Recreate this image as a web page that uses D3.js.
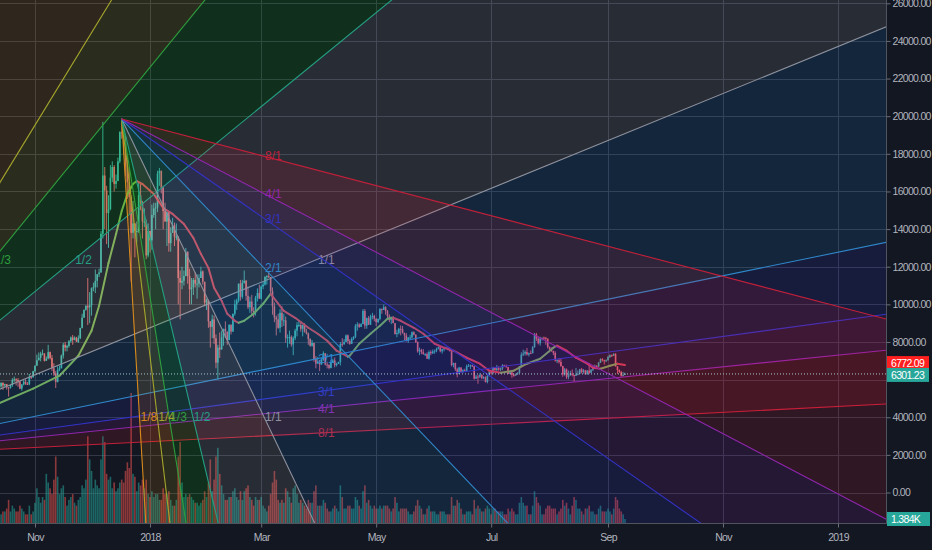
<!DOCTYPE html>
<html><head><meta charset="utf-8">
<script src="https://cdn.jsdelivr.net/npm/d3@7"></script>
<style>
html,body{margin:0;padding:0;background:#131722;}
svg{display:block;}
text{font-family:"Liberation Sans",Arial,sans-serif;}
</style></head><body>
<svg id="c" width="932" height="550"></svg>
<script>
// ---------------- DATA ----------------
const startDay = "2017-10-12"; // one candle per day from here
const opens = [4830,5430,5640,5830,5690,5760,5590,5570,5710,5990,6020,5980,5900,5520,5740,5890,5770,5750,6150,6130,
6450,6740,7030,7160,7380,7390,7000,7120,7460,7150,6600,6330,5880,6520,6600,7280,7850,7700,7790,8040,8240,8100,8230,8010,8200,8750,9290,9710,9920,9840,
9950,10860,10910,11250,11600,11690,13750,16850,16050,14850,15060,16730,17300,16400,16550,17600,19150,19100,18900,17400,16480,15700,13800,14300,13900,13900,15800,15400,14400,14400,12600,
13900,13400,14750,15100,15150,16950,17100,16200,14950,14400,14900,13250,13800,14200,13600,13600,11400,11150,11250,11500,12800,11500,10800,10900,11300,11100,11100,11400,11750,11200,10100,
10200,9100,8800,9200,8200,6900,7700,7600,8250,8700,8550,8100,8900,8550,9500,10000,10200,11100,10400,11150,11250,10450,9850,10150,9650,9600,10350,10600,
10300,10950,11050,11450,11500,11450,10700,9900,9300,9200,8750,9550,9150,9150,8200,8250,8270,7870,8200,8600,8900,8900,8700,8900,8550,8450,8150,7800,7950,7100,6850,
6950,6800,7050,7400,6800,6780,6620,6900,7020,6770,6830,6940,7900,7880,8000,8350,8050,7900,8170,8280,8860,8930,8800,8950,9650,8870,9270,8920,9350,9390,
9240,9060,9220,9750,9700,9850,9650,9370,9180,9310,9000,8420,8480,8700,8680,8480,8350,8060,8240,8240,8520,8390,7990,7500,7580,7460,7350,7360,7110,7470,7400,
7500,7530,7640,7720,7500,7620,7660,7690,7620,7510,6770,6880,6550,6300,6640,6400,6500,6460,6720,6750,6760,6720,6050,6160,6150,6250,6080,6130,5870,6200,
6390,6350,6620,6510,6600,6530,6600,6760,6710,6660,6300,6390,6250,6230,6270,6350,6720,7320,7380,7470,7330,7410,7400,7720,8400,8170,7930,8190,8230,8220,8180,
7730,7600,7530,7420,7010,7030,6940,6720,6280,6540,6140,6240,6320,6250,6200,6270,6310,6550,6400,6490,6280,6480,6360,6520,6690,6730,6700,6910,7090,7030,6980,
7030,7200,7300,7270,7370,6700,6510,6410,6200,6250];
const highs = [5440,5850,5850,5850,5780,5770,5600,5720,6080,6160,6070,6080,5920,5760,5970,6020,5870,6300,6190,6470,
6750,7330,7440,7480,7600,7400,7230,7850,7490,7300,6870,6460,6700,6750,7330,7950,8000,7850,8100,8290,8370,8300,8270,8350,8750,9500,9720,9950,11400,10650,
10900,11150,11850,11600,11900,13900,19700,17300,16300,15800,17400,17600,17400,16900,17800,19200,19890,19200,18960,17900,17300,15800,15500,14300,14400,16500,16500,15500,15100,14500,14300,
13900,15300,15400,15400,17100,17250,17100,16300,15400,14900,14950,14100,14600,14350,14300,13600,11800,12000,11800,13000,12800,11900,11400,11400,11700,11600,11600,12000,11800,11200,10300,
10250,9100,9450,9400,8400,7850,8500,8600,8700,9100,8550,8950,8950,9500,10250,10300,11100,11300,11300,11800,11300,10950,10400,10500,9850,10450,10850,11050,
11000,11200,11500,11550,11700,11450,10900,10100,9400,9500,9750,9900,9500,9350,8400,8600,8350,8300,8700,9050,9150,9100,8900,9000,8700,8500,8200,8100,7950,7250,7200,
7050,7150,7500,7400,6950,6820,7050,7100,7180,6900,6950,8000,8200,8150,8400,8400,8150,8250,8300,8950,9050,9000,9000,9750,9750,9300,9380,9450,9550,9450,
9250,9250,9800,9780,9990,9900,9700,9470,9350,9380,9000,8650,8750,8880,8850,8500,8470,8260,8380,8560,8570,8400,8030,7700,7640,7620,7400,7450,7550,7560,7600,
7600,7700,7760,7760,7630,7700,7750,7700,7680,7510,6900,6900,6630,6680,6660,6550,6580,6800,6830,6800,6790,6720,6250,6250,6340,6280,6180,6170,6300,6500,
6430,6680,6670,6780,6700,6640,6820,6790,6800,6680,6400,6390,6320,6320,6400,6720,7450,7590,7550,7680,7440,7550,7780,8480,8480,8300,8280,8230,8290,8270,8180,
7760,7710,7530,7500,7080,7150,7150,6730,6620,6590,6480,6470,6540,6250,6620,6480,6570,6620,6560,6520,6500,6880,6560,6700,6800,6770,6930,7130,7140,7060,7070,
7270,7340,7340,7400,7400,6720,6540,6460,6410,6370];
const lows = [4820,5380,5560,5450,5600,5470,5100,5520,5620,5880,5690,5620,5490,5410,5690,5720,5710,5700,6030,6090,
6370,6730,7020,6970,7290,6960,6990,7080,7070,6450,6200,5550,5850,6450,6600,7120,7500,7500,7700,7960,7850,8090,8000,7950,8150,8720,9290,9670,8900,9000,
9400,10700,10600,10900,11450,11690,13500,14000,13200,13000,15000,16500,16000,16150,16550,17500,18800,18000,16800,15600,14800,11200,13500,12500,13300,13800,15000,13500,14100,12400,12500,
12750,12900,14600,14000,14900,16300,15900,14000,14400,13100,12800,12800,13800,13100,13400,10000,9200,10800,11000,11500,11100,10000,10000,10500,10900,10300,10900,11400,11050,9900,9700,
8750,7700,8200,7900,6600,6000,7150,7600,7800,8200,7850,8100,8400,8550,9400,9700,10100,10200,10300,11100,10200,9750,9550,9400,9300,9400,10150,10300,
10250,10800,11000,11050,11400,10600,9450,9050,8350,8700,8500,8800,8850,7950,7700,7900,7750,7300,8100,8300,8800,8550,8300,8500,8400,7850,7750,7750,6950,6600,6850,
6450,6800,7000,6750,6600,6550,6600,6900,6650,6700,6830,6750,7750,7850,8000,7900,7850,7900,8100,8200,8600,8750,8800,8950,8700,8700,8900,8900,9200,9100,
8850,9000,9150,9500,9700,9450,9200,9050,8950,9000,8400,8250,8400,8350,8450,8100,8020,7950,8130,8180,8350,7950,7430,7300,7350,7330,7250,7100,7060,7300,7360,
7370,7450,7600,7450,7380,7500,7640,7560,7500,6700,6650,6460,6120,6300,6380,6350,6450,6420,6680,6560,6670,6000,6040,5780,6080,6020,6020,5850,5800,6170,
6280,6280,6480,6430,6470,6450,6500,6680,6640,6300,6300,6100,6150,6200,6260,6340,6660,7250,7280,7280,7230,7380,7400,7700,8050,7870,7800,8080,8120,7850,7650,
7450,7480,7300,6960,6880,6850,6680,6150,6210,6030,6020,6200,6170,5880,6190,6230,6300,6330,6320,6280,6270,6290,6350,6450,6650,6600,6660,6880,6960,6800,6930,
7010,7140,7200,7250,6700,6300,6350,6150,6170,6240];
const closes = [5430,5640,5830,5690,5760,5590,5570,5710,5990,6020,5980,5900,5520,5740,5890,5770,5750,6150,6130,6450,
6740,7030,7160,7380,7390,7000,7120,7460,7150,6600,6330,5880,6520,6600,7280,7850,7700,7790,8040,8240,8100,8230,8010,8200,8750,9290,9710,9920,9840,9950,
10860,10910,11250,11600,11690,13750,16850,16050,14850,15060,16730,17300,16400,16550,17600,19150,19100,18900,17400,16480,15700,13800,14300,13900,13900,15800,15400,14400,14400,12600,13900,
13400,14750,15100,15150,16950,17100,16200,14950,14400,14900,13250,13800,14200,13600,13600,11400,11150,11250,11500,12800,11500,10800,10900,11300,11100,11100,11400,11750,11200,10100,10200,
9100,8800,9200,8200,6900,7700,7600,8250,8700,8550,8100,8900,8550,9500,10000,10200,11100,10400,11150,11250,10450,9850,10150,9650,9600,10350,10600,10300,
10950,11050,11450,11500,11450,10700,9900,9300,9200,8750,9550,9150,9150,8200,8250,8270,7870,8200,8600,8900,8900,8700,8900,8550,8450,8150,7800,7950,7100,6850,6950,
6800,7050,7400,6800,6780,6620,6900,7020,6770,6830,6940,7900,7880,8000,8350,8050,7900,8170,8280,8860,8930,8800,8950,9650,8870,9270,8920,9350,9390,9240,
9060,9220,9750,9700,9850,9650,9370,9180,9310,9000,8420,8480,8700,8680,8480,8350,8060,8240,8240,8520,8390,7990,7500,7580,7460,7350,7360,7110,7470,7400,7500,
7530,7640,7720,7500,7620,7660,7690,7620,7510,6770,6880,6550,6300,6640,6400,6500,6460,6720,6750,6760,6720,6050,6160,6150,6250,6080,6130,5870,6200,6390,
6350,6620,6510,6600,6530,6600,6760,6710,6660,6300,6390,6250,6230,6270,6350,6720,7320,7380,7470,7330,7410,7400,7720,8400,8170,7930,8190,8230,8220,8180,7730,
7600,7530,7420,7010,7030,6940,6720,6280,6540,6140,6240,6320,6250,6200,6270,6310,6550,6400,6490,6280,6480,6360,6520,6690,6730,6700,6910,7090,7030,6980,7030,
7200,7300,7270,7370,6700,6510,6410,6200,6250,6301.23];
// volume in thousands
const volumes = [6,4,3,4,4,5,8,4,6,5,4,4,6,5,4,3,3,6,3,4,
7,12,9,7,9,8,17,14,12,10,15,23,16,10,12,13,9,6,8,9,10,7,6,8,9,13,12,15,30,22,
18,12,15,13,12,22,30,28,17,15,16,12,14,11,12,14,15,14,18,21,19,45,17,16,11,14,13,15,12,15,10,
9,11,9,10,10,8,8,12,10,10,11,8,6,6,8,23,28,14,9,10,9,10,9,8,7,7,6,7,8,11,9,
14,22,11,15,23,26,17,13,10,8,8,9,9,11,12,9,8,11,8,11,12,13,9,8,6,9,8,8,
9,6,5,4,6,10,14,18,15,8,7,8,7,12,11,9,7,12,13,10,7,8,7,6,5,8,7,7,11,13,6,
6,6,8,7,5,4,4,5,6,5,4,13,9,5,5,6,6,5,5,9,8,6,5,11,13,7,8,6,5,6,
5,5,6,5,6,6,6,5,4,5,9,7,4,5,5,5,5,4,3,3,4,6,8,6,5,3,3,5,6,4,4,
4,3,3,4,4,4,3,3,3,9,6,6,8,7,5,3,3,4,4,4,3,8,5,6,5,4,4,5,6,5,
3,5,5,4,4,4,4,3,3,5,4,5,4,3,3,7,9,7,6,6,3,3,6,11,9,7,6,3,3,5,6,
6,5,5,5,3,4,5,8,6,7,5,3,6,9,8,5,5,4,3,5,5,6,4,4,3,3,5,6,4,4,4,
5,4,3,5,9,8,5,4,3,1.384];
// moving average
const maDates = ["2017-10-12","2017-10-31","2017-11-14","2017-11-24","2017-12-01","2017-12-05","2017-12-10","2017-12-14","2017-12-17","2017-12-20","2017-12-23","2017-12-25","2017-12-28","2018-01-03","2018-01-08","2018-01-13","2018-01-19","2018-01-24","2018-01-28","2018-02-01","2018-02-04","2018-02-08","2018-02-11","2018-02-15","2018-02-17","2018-02-20","2018-02-25","2018-03-02","2018-03-06","2018-03-13","2018-03-19","2018-03-26","2018-03-31","2018-04-05","2018-04-10","2018-04-16","2018-04-17","2018-04-22","2018-04-28","2018-05-03","2018-05-07","2018-05-10","2018-05-14","2018-05-21","2018-05-26","2018-06-01","2018-06-06","2018-06-11","2018-06-18","2018-06-25","2018-06-30","2018-07-06","2018-07-13","2018-07-20","2018-07-27","2018-08-03","2018-08-05","2018-08-10","2018-08-15","2018-08-21","2018-08-24","2018-08-28","2018-09-02","2018-09-06","2018-09-10"];
const maValues = [4700,5518,6208,7269,8596,9923,12204,13743,14963,15865,16396,16555,16396,15865,15122,14804,14273,13530,12682,11939,10877,10188,9498,9127,9020,9127,9498,10029,10559,9657,9286,8755,8437,8065,7535,7216,7269,7906,8437,8861,9233,9286,9127,8755,8437,7906,7694,7535,7163,6845,6474,6367,6474,6845,7110,7694,7800,7535,7163,6845,6633,6580,6739,6845,6772.09];
const priceTicks = [0,2000,4000,6000,8000,10000,12000,14000,16000,18000,20000,22000,24000,26000];
const timeTicks = ["2017-11-01","2018-01-01","2018-03-01","2018-05-01","2018-07-01","2018-09-01","2018-11-01","2019-01-01"];
const timeTickLabels = ["Nov","2018","Mar","May","Jul","Sep","Nov","2019"];
// Gann fans: anchor and second (1/1) point
const fanLevels = ["1/8","1/4","1/3","1/2","1/1","2/1","3/1","4/1","8/1"];
const risingFanPoints = [["2017-07-16T00:00:00Z",1837],["2018-03-30T14:00:00Z",12384]];
const fallingFanPoints = [["2017-12-17T00:00:00Z",19850],["2018-03-02T12:00:00Z",4013]];
const lastPrice = 6301.23, lastMA = 6772.09, lastVolume = 1.384;

// ---------------- STYLE ----------------
const BG="#131722", GRID="#343846", TXT="#b2b5be";
const UP="#3fb5a6", DN="#e5696b";
const fanLineColors = ["#d88b1c","#a5a52c","#2e9e3e","#24a083","#8e929e","#2f86c8","#3333c4","#9026ad","#c2203a"];
const fanFillColors = ["#ff9800","#d8d000","#00e000","#c4c4c4","#2196f3","#3a3aff","#a424c4","#ff1838"];
const PR=886, PB=523;
const AXFONT=10.5, AXSPACE=-0.7;

const svg=d3.select("#c");
const x=d3.scaleUtc().domain([new Date("2017-11-01T00:00:00Z"),new Date("2019-01-01T00:00:00Z")]).range([35,838]);
const y=d3.scaleLinear().domain([0,26000]).range([492.5,3.3]);
const yv=d3.scaleLinear().domain([0,46]).range([PB,390]);
const day0=new Date(startDay+"T00:00:00Z");
const dates=closes.map((_,i)=>new Date(day0.getTime()+i*864e5));

svg.append("rect").attr("width",932).attr("height",550).attr("fill",BG);
svg.append("defs").append("clipPath").attr("id","clip").append("rect").attr("x",0).attr("y",0).attr("width",PR).attr("height",PB);
const plot=svg.append("g").attr("clip-path","url(#clip)");

// grid
plot.append("g").selectAll("line").data(priceTicks).join("line")
  .attr("x1",0).attr("x2",PR).attr("y1",d=>Math.round(y(d))+0.5).attr("y2",d=>Math.round(y(d))+0.5)
  .attr("stroke",GRID).attr("stroke-width",1);
plot.append("g").selectAll("line").data(timeTicks).join("line")
  .attr("y1",0).attr("y2",PB).attr("x1",d=>Math.round(x(new Date(d+"T00:00:00Z")))+0.5).attr("x2",d=>Math.round(x(new Date(d+"T00:00:00Z")))+0.5)
  .attr("stroke",GRID).attr("stroke-width",1);

// volume
const idx=d3.range(closes.length);
plot.append("g").selectAll("rect").data(idx).join("rect")
  .attr("x",i=>x(dates[i])-0.8).attr("width",1.6)
  .attr("y",i=>yv(volumes[i])).attr("height",i=>PB-yv(volumes[i]))
  .attr("fill",i=>closes[i]>=opens[i]?"#26a69a":"#ef5350").attr("fill-opacity",0.55);

// candles
const cg=plot.append("g");
cg.selectAll("line").data(idx).join("line")
  .attr("x1",i=>x(dates[i])).attr("x2",i=>x(dates[i]))
  .attr("y1",i=>y(Math.max(highs[i],opens[i],closes[i]))).attr("y2",i=>y(Math.min(lows[i],opens[i],closes[i])))
  .attr("stroke",i=>closes[i]>=opens[i]?UP:DN).attr("stroke-width",0.9);
cg.selectAll("rect").data(idx).join("rect")
  .attr("x",i=>x(dates[i])-0.8).attr("width",1.6)
  .attr("y",i=>y(Math.max(opens[i],closes[i])))
  .attr("height",i=>Math.max(1,Math.abs(y(opens[i])-y(closes[i]))))
  .attr("fill",i=>closes[i]>=opens[i]?UP:DN);

// moving average (green rising / red falling)
const maPts=maDates.map((d,i)=>[x(new Date(d+"T00:00:00Z")),y(maValues[i])]);
const mg=plot.append("g");
for(let i=0;i<maPts.length-1;i++){
  mg.append("line").attr("x1",maPts[i][0]).attr("y1",maPts[i][1]).attr("x2",maPts[i+1][0]).attr("y2",maPts[i+1][1])
    .attr("stroke",maValues[i+1]>=maValues[i]?"#7aad4e":"#d8404c").attr("stroke-width",2).attr("stroke-linecap","round");
}

// gann fans
function drawFan(pts){
  const ax=x(new Date(pts[0][0])), ay=y(pts[0][1]);
  const bx=x(new Date(pts[1][0])), by=y(pts[1][1]);
  const dx=bx-ax, dy=by-ay;
  const dirs=fanLevels.map(l=>{const [a,b]=l.split("/").map(Number); return a===1?[dx/b,dy]:[dx,dy/a];});
  const T=40;
  const g=plot.append("g");
  for(let i=0;i<dirs.length-1;i++){
    const p=[[ax,ay],[ax+T*dirs[i][0],ay+T*dirs[i][1]],[ax+T*dirs[i+1][0],ay+T*dirs[i+1][1]]];
    g.append("path").attr("d","M"+p.map(q=>q.join(",")).join("L")+"Z").attr("fill",fanFillColors[i]).attr("fill-opacity",0.12);
  }
  dirs.forEach((d,i)=>{
    g.append("line").attr("x1",ax).attr("y1",ay).attr("x2",ax+T*d[0]).attr("y2",ay+T*d[1])
      .attr("stroke",fanLineColors[i]).attr("stroke-width",1.1);
  });
  dirs.forEach((d,i)=>{
    const lx=ax+d[0]+1, ly=ay+d[1];
    if(lx<-12||lx>PR||ly<0||ly>PB) return; // label lies entirely outside the pane
    g.append("text").attr("x",lx).attr("y",ly).attr("dy","0.35em")
      .attr("font-size",12).attr("fill",fanLineColors[i]).text(fanLevels[i]);
  });
}
drawFan(risingFanPoints);
drawFan(fallingFanPoints);

// last price dotted line
plot.append("line").attr("x1",0).attr("x2",PR).attr("y1",y(lastPrice)).attr("y2",y(lastPrice))
  .attr("stroke","#a9c6cf").attr("stroke-width",1).attr("stroke-dasharray","1,2");

// borders
svg.append("line").attr("x1",PR+0.5).attr("x2",PR+0.5).attr("y1",0).attr("y2",PB+0.5).attr("stroke","#50545f");
svg.append("line").attr("x1",0).attr("x2",PR+0.5).attr("y1",PB+0.5).attr("y2",PB+0.5).attr("stroke","#50545f");

// right axis
const boxYs=[y(lastMA)-2,y(lastPrice)];
const ra=svg.append("g").attr("transform",`translate(${PR+0.5},0)`)
  .call(d3.axisRight(y).tickValues(priceTicks).tickSize(4).tickPadding(2)
  .tickFormat(d=>boxYs.some(b=>Math.abs(b-y(d))<12)?"":d.toFixed(2)));
ra.select(".domain").remove();
ra.selectAll("line").attr("stroke","#6a6e78");
ra.selectAll("text").attr("fill",TXT).attr("font-size",AXFONT).attr("letter-spacing",AXSPACE)
  .attr("font-family","Liberation Sans, Arial, sans-serif");

// bottom axis
const ba=svg.append("g").attr("transform",`translate(0,${PB+0.5})`)
  .call(d3.axisBottom(x).tickValues(timeTicks.map(d=>new Date(d+"T00:00:00Z"))).tickSize(4).tickPadding(6)
  .tickFormat((d,i)=>timeTickLabels[i]));
ba.select(".domain").remove();
ba.selectAll("line").attr("stroke","#6a6e78");
ba.selectAll("text").attr("fill",TXT).attr("font-size",AXFONT).attr("letter-spacing",AXSPACE)
  .attr("font-family","Liberation Sans, Arial, sans-serif");

// value boxes
function box(cy,color,label,w){
  const g=svg.append("g");
  g.append("rect").attr("x",PR+1).attr("y",cy-7).attr("width",w).attr("height",14).attr("fill",color);
  g.append("text").attr("x",PR+5).attr("y",cy).attr("dy","0.36em").attr("font-size",AXFONT)
    .attr("letter-spacing",AXSPACE).attr("fill","#ffffff").text(label);
}
box(y(lastMA)-2,"#ff1f1f",lastMA.toFixed(2),42);
box(y(lastPrice)+1,"#27a69a",lastPrice.toFixed(2),42);
box(yv(lastVolume),"#27a69a",lastVolume.toFixed(3)+"K",43);
</script>
</body></html>
